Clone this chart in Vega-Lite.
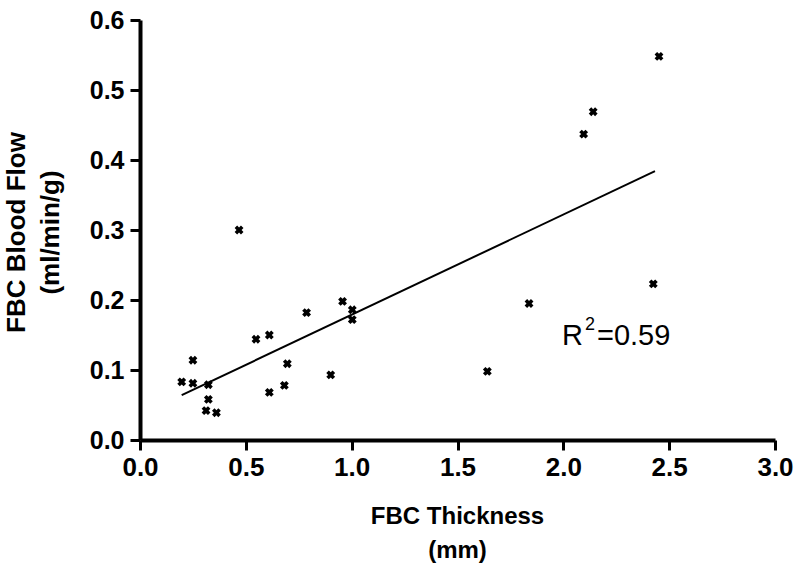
{
  "$schema": "https://vega.github.io/schema/vega-lite/v6.json",
  "width": 635,
  "height": 420,
  "autosize": {"type": "none"},
  "padding": {"left": 140, "top": 20, "right": 25, "bottom": 132},
  "background": "white",
  "config": {
    "view": {"stroke": null},
    "font": "Liberation Sans",
    "axis": {
      "grid": false,
      "domainColor": "black",
      "domainWidth": 4,
      "tickColor": "black",
      "tickWidth": 3,
      "tickSize": 10,
      "labelFont": "Liberation Sans",
      "labelFontWeight": "bold",
      "labelColor": "black",
      "labelFlush": false,
      "labelOverlap": false,
      "titleFont": "Liberation Sans",
      "titleFontWeight": "bold",
      "titleColor": "black",
      "titleLineHeight": 34
    },
    "axisX": {"labelFontSize": 26, "titleFontSize": 24},
    "axisY": {"labelFontSize": 25, "titleFontSize": 26}
  },
  "datasets": {
    "points": [
      {"thickness": 0.197, "flow": 0.083},
      {"thickness": 0.25, "flow": 0.114},
      {"thickness": 0.25, "flow": 0.081},
      {"thickness": 0.323, "flow": 0.079},
      {"thickness": 0.323, "flow": 0.058},
      {"thickness": 0.312, "flow": 0.042},
      {"thickness": 0.361, "flow": 0.039},
      {"thickness": 0.468, "flow": 0.300},
      {"thickness": 0.548, "flow": 0.144},
      {"thickness": 0.611, "flow": 0.150},
      {"thickness": 0.611, "flow": 0.068},
      {"thickness": 0.696, "flow": 0.109},
      {"thickness": 0.682, "flow": 0.078},
      {"thickness": 0.787, "flow": 0.182},
      {"thickness": 0.901, "flow": 0.093},
      {"thickness": 0.957, "flow": 0.198},
      {"thickness": 1.003, "flow": 0.186},
      {"thickness": 1.003, "flow": 0.172},
      {"thickness": 1.641, "flow": 0.098},
      {"thickness": 1.838, "flow": 0.195},
      {"thickness": 2.096, "flow": 0.437},
      {"thickness": 2.141, "flow": 0.469},
      {"thickness": 2.425, "flow": 0.223},
      {"thickness": 2.452, "flow": 0.548}
    ],
    "fit": [
      {"thickness": 0.197, "flow": 0.064},
      {"thickness": 2.433, "flow": 0.384}
    ],
    "label": [
      {"thickness": 2.159, "flow": 0.149, "base": "R", "sup": "2", "rest": "=0.59"}
    ]
  },
  "layer": [
    {
      "data": {"name": "fit"},
      "mark": {"type": "line", "color": "black", "strokeWidth": 2},
      "encoding": {
        "x": {
          "field": "thickness",
          "type": "quantitative",
          "scale": {"domain": [0, 3], "nice": false},
          "axis": {
            "values": [0, 0.5, 1, 1.5, 2, 2.5, 3],
            "format": ".1f",
            "labelPadding": 4,
            "title": ["FBC Thickness", "(mm)"],
            "titleX": 317,
            "titleY": 76,
            "titleBaseline": "middle",
            "titleAlign": "center"
          }
        },
        "y": {
          "field": "flow",
          "type": "quantitative",
          "scale": {"domain": [0, 0.6], "nice": false},
          "axis": {
            "values": [0, 0.1, 0.2, 0.3, 0.4, 0.5, 0.6],
            "format": ".1f",
            "labelPadding": 6,
            "title": ["FBC Blood Flow", "(ml/min/g)"],
            "titleX": -124,
            "titleY": 212,
            "titleAngle": -90,
            "titleBaseline": "middle",
            "titleAlign": "center"
          }
        }
      }
    },
    {
      "data": {"name": "points"},
      "mark": {"type": "point", "shape": "cross", "angle": 45, "filled": true, "color": "black", "size": 80, "opacity": 1},
      "encoding": {
        "x": {"field": "thickness", "type": "quantitative"},
        "y": {"field": "flow", "type": "quantitative"}
      }
    },
    {
      "data": {"name": "label"},
      "mark": {"type": "text", "fontSize": 29, "font": "Liberation Sans", "color": "black", "align": "left", "baseline": "middle"},
      "encoding": {
        "x": {"field": "thickness", "type": "quantitative"},
        "y": {"field": "flow", "type": "quantitative"},
        "text": {"field": "rest"}
      }
    },
    {
      "data": {"name": "label"},
      "mark": {"type": "text", "fontSize": 29, "font": "Liberation Sans", "color": "black", "align": "right", "baseline": "middle", "dx": -14},
      "encoding": {
        "x": {"field": "thickness", "type": "quantitative"},
        "y": {"field": "flow", "type": "quantitative"},
        "text": {"field": "base"}
      }
    },
    {
      "data": {"name": "label"},
      "mark": {"type": "text", "fontSize": 18, "font": "Liberation Sans", "color": "black", "align": "left", "baseline": "middle", "dx": -12, "dy": -11},
      "encoding": {
        "x": {"field": "thickness", "type": "quantitative"},
        "y": {"field": "flow", "type": "quantitative"},
        "text": {"field": "sup"}
      }
    }
  ]
}
